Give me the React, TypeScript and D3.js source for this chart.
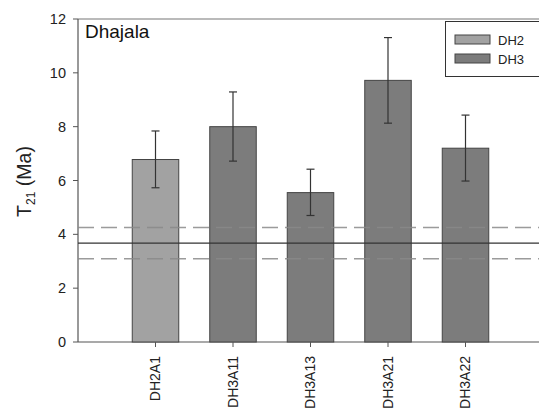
import React from 'react';
import * as d3 from 'd3';

const samples = ['DH2A1', 'DH3A11', 'DH3A13', 'DH3A21', 'DH3A22'];
const groups = ['DH2', 'DH3', 'DH3', 'DH3', 'DH3'];
const means = [6.78, 8.0, 5.55, 9.72, 7.2];
const errLow = [5.73, 6.72, 4.7, 8.13, 5.98];
const errHigh = [7.84, 9.29, 6.42, 11.31, 8.43];
const yTicks = [0, 2, 4, 6, 8, 10, 12];

// reference line with its dashed band
const refMean = 3.67;
const refBand = [3.09, 4.25];

const legendItems = ['DH2', 'DH3'];
const groupFill: Record<string, string> = { DH2: '#a2a2a2', DH3: '#7c7c7c' };

const W = 539;
const H = 412;
const margin = { left: 78, top: 19, bottom: 70 };
const font = 'Arial, "Liberation Sans", sans-serif';

export default function App() {
  // x runs past the right edge of the picture, as in the original
  const x = d3.scaleLinear().domain([0, 6]).range([margin.left, 543]);
  const y = d3.scaleLinear().domain([0, 12]).range([H - margin.bottom, margin.top]);
  const bw = (x(1) - x(0)) * 0.6;
  const x0 = x(0);
  const xEnd = W + 20;

  return (
    <svg
      width={W}
      height={H}
      style={{ position: 'absolute', left: 0, top: 0, background: '#fff', overflow: 'hidden' }}
      fontFamily={font}
    >
      {/* frame */}
      <line x1={x0} x2={xEnd} y1={y(12)} y2={y(12)} stroke="#777" strokeWidth={1.2} />
      <line x1={x0} x2={x0} y1={y(12)} y2={y(0)} stroke="#555" strokeWidth={1.2} />
      <line x1={x0} x2={xEnd} y1={y(0)} y2={y(0)} stroke="#555" strokeWidth={1.2} />

      {/* y ticks */}
      {yTicks.map(t => (
        <g key={t}>
          <line x1={x0 - 5} x2={x0} y1={y(t)} y2={y(t)} stroke="#555" />
          <text x={x0 - 12} y={y(t)} dy="0.35em" textAnchor="end" fontSize={14.5} fill="#222">
            {t}
          </text>
        </g>
      ))}

      {/* y label */}
      <text
        transform={`translate(31, ${y(6.0) + 1}) rotate(-90)`}
        textAnchor="middle"
        fontSize={19.5}
        fill="#222"
      >
        T<tspan fontSize={12} dy={4}>21</tspan>
        <tspan dy={-4}> (Ma)</tspan>
      </text>

      {/* bars */}
      {samples.map((s, i) => (
        <rect
          key={s}
          x={x(i + 1) - bw / 2}
          y={y(means[i])}
          width={bw}
          height={y(0) - y(means[i])}
          fill={groupFill[groups[i]]}
          stroke="#444"
          strokeWidth={1}
        />
      ))}

      {/* reference lines */}
      {refBand.map((v, i) => (
        <line
          key={i}
          x1={x0}
          x2={xEnd}
          y1={y(v)}
          y2={y(v)}
          stroke="#8a8a8a"
          strokeWidth={1.5}
          strokeDasharray="16 7"
          strokeOpacity={0.85}
        />
      ))}
      <line x1={x0} x2={xEnd} y1={y(refMean)} y2={y(refMean)} stroke="#333" strokeWidth={1.2} />

      {/* error bars */}
      {samples.map((s, i) => {
        const cx = x(i + 1);
        return (
          <g key={s} stroke="#333" strokeWidth={1.2}>
            <line x1={cx} x2={cx} y1={y(errLow[i])} y2={y(errHigh[i])} />
            <line x1={cx - 4} x2={cx + 4} y1={y(errLow[i])} y2={y(errLow[i])} />
            <line x1={cx - 4} x2={cx + 4} y1={y(errHigh[i])} y2={y(errHigh[i])} />
          </g>
        );
      })}

      {/* x ticks and labels */}
      {samples.map((s, i) => (
        <g key={s}>
          <line x1={x(i + 1)} x2={x(i + 1)} y1={y(0)} y2={y(0) + 5} stroke="#555" />
          <text
            transform={`translate(${x(i + 1)}, ${y(0) + 14}) rotate(-90)`}
            dy="0.35em"
            textAnchor="end"
            fontSize={14}
            fill="#222"
          >
            {s}
          </text>
        </g>
      ))}

      {/* title */}
      <text x={85} y={38} fontSize={19} fill="#111">
        Dhajala
      </text>

      {/* legend */}
      <rect x={445.5} y={21.5} width={120} height={55} fill="#fff" stroke="#333" strokeWidth={1} />
      {legendItems.map((g, i) => (
        <g key={g} transform={`translate(455, ${35 + i * 19})`}>
          <rect width={35} height={9} fill={groupFill[g]} stroke="#444" />
          <text x={43} y={9.5} fontSize={13} fill="#222">
            {g}
          </text>
        </g>
      ))}
    </svg>
  );
}
